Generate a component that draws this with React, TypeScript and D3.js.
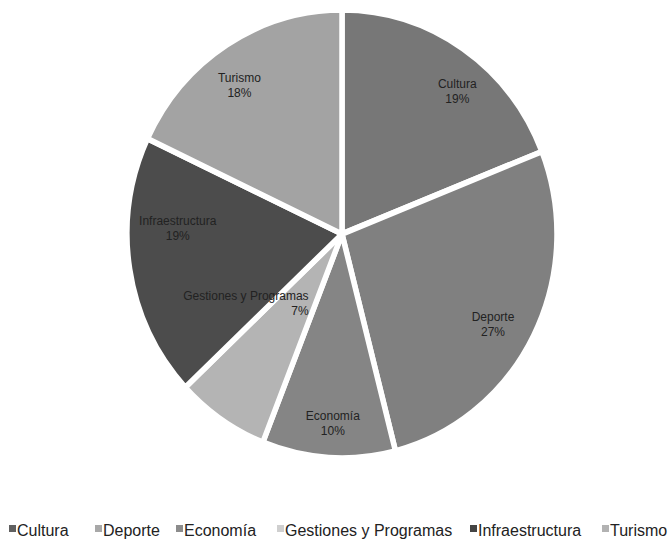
import React from "react";
import * as d3 from "d3";

const categories = ["Cultura", "Deporte", "Economía", "Gestiones y Programas", "Infraestructura", "Turismo"];
const values = [19, 27, 10, 7, 19, 18];
const colors = ["#777777", "#808080", "#858585", "#b4b4b4", "#4c4c4c", "#a3a3a3"];
const legendColors = ["#606060", "#a8a8a8", "#8c8c8c", "#cfcfcf", "#444444", "#b2b2b2"];

const W = 670;
const H = 542;
const CX = 342;
const CY = 234;
const RX = 215;
const RY = 224;

export default function App() {
  const pie = d3.pie<number>().sort(null).value((d) => d);
  const arcs = pie(values);
  const arc = d3.arc<d3.PieArcDatum<number>>().innerRadius(0).outerRadius(RX);
  const labelArc = d3.arc<d3.PieArcDatum<number>>().innerRadius(RX * 0.8).outerRadius(RX * 0.86);
  const sy = RY / RX;

  // label placement tweaks (Excel "best fit")
  const nudge: Record<string, [number, number]> = {
    "Cultura": [15, 8],
    "Turismo": [-7, 5],
    "Deporte": [-8, 3],
    "Economía": [2, 0],
    "Infraestructura": [12, -38],
  };

  const legendX = [9, 95, 176, 277, 470, 602];

  return (
    <svg width={W} height={H} style={{ position: "absolute", left: 0, top: 0, background: "#fff" }}
      fontFamily="'Liberation Sans', Arial, sans-serif">
      <rect width={W} height={H} fill="#fff" />
      <g transform={`translate(${CX},${CY}) scale(1,${sy})`}>
        {arcs.map((a, i) => (
          <path key={i} d={arc(a) || ""} fill={colors[i]} stroke="#fff" strokeWidth={5.5} strokeLinejoin="round" />
        ))}
      </g>
      <g transform={`translate(${CX},${CY})`}>
        {arcs.map((a, i) => {
          const name = categories[i];
          const pct = `${values[i]}%`;
          if (name === "Gestiones y Programas") {
            const mid = (a.startAngle + a.endAngle) / 2;
            const r = 95;
            const x = Math.sin(mid) * r + 20;
            const y = -Math.cos(mid) * r * sy - 16;
            return (
              <g key={i} fontSize={12} fill="#222">
                <text x={x} y={y} textAnchor="end">{name}</text>
                <text x={x} y={y + 15} textAnchor="end">{pct}</text>
              </g>
            );
          }
          const [cx, cy] = labelArc.centroid(a);
          const [dx, dy] = nudge[name] || [0, 0];
          const x = cx + dx;
          const y = cy * sy + dy;
          return (
            <g key={i} fontSize={12} fill="#222" textAnchor="middle">
              <text x={x} y={y}>{name}</text>
              <text x={x} y={y + 15}>{pct}</text>
            </g>
          );
        })}
      </g>
      <g fontSize={16} fill="#222">
        {categories.map((c, i) => (
          <g key={c}>
            <rect x={legendX[i]} y={525} width={7} height={7} fill={legendColors[i]} />
            <text x={legendX[i] + 8} y={536}>{c}</text>
          </g>
        ))}
      </g>
    </svg>
  );
}
